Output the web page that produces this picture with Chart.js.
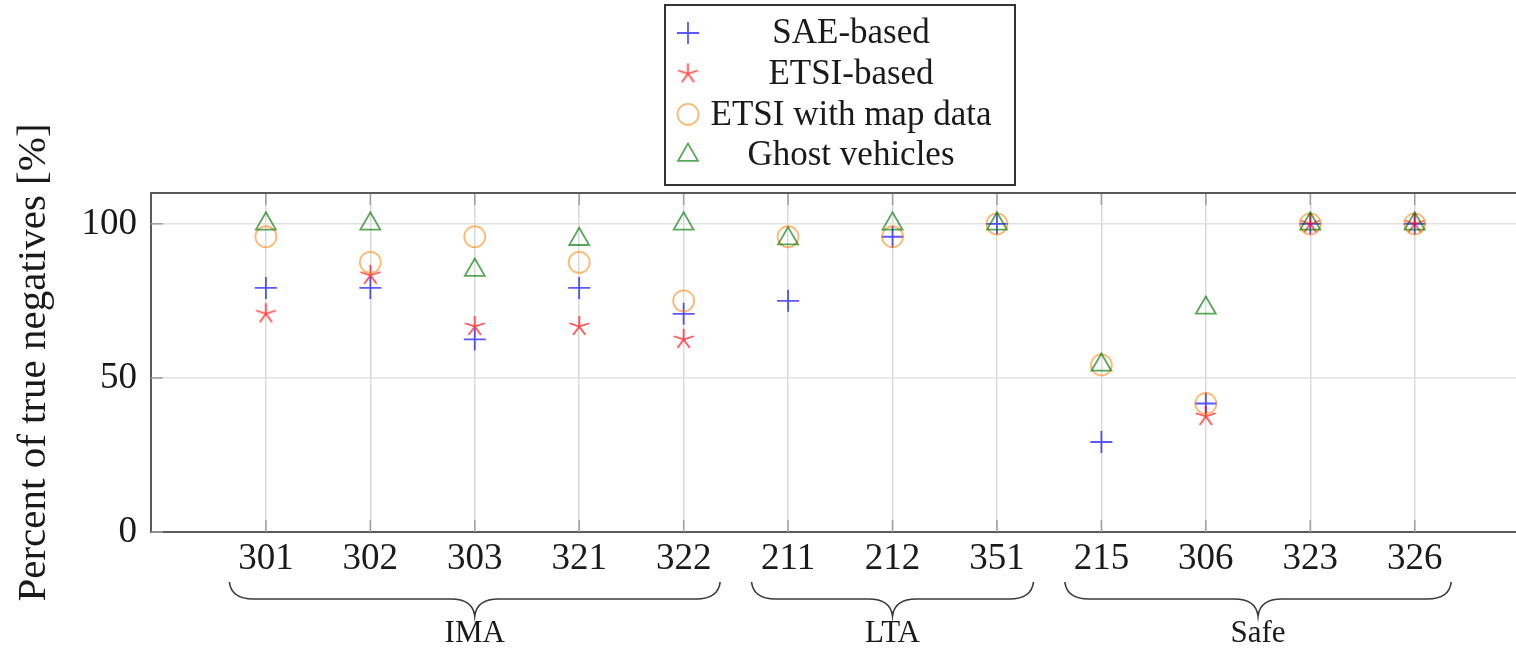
<!DOCTYPE html>
<html>
<head>
<meta charset="utf-8">
<script src="https://cdn.jsdelivr.net/npm/chart.js@4/dist/chart.umd.min.js"></script>
<style>
    html, body { margin: 0; padding: 0; background: #fff; overflow: hidden; }
    #wrap { width: 1516px; height: 652px; }
</style>
</head>
<body>
<div id="wrap"><canvas id="chart" width="1516" height="652"></canvas></div>
<script>
    // scenario ids on the x axis
    const scenarios = ['301', '302', '303', '321', '322', '211', '212', '351', '215', '306', '323', '326'];
    const yTicks = [0, 50, 100];

    // groups shown with braces under the axis
    const groupNames = ['IMA', 'LTA', 'Safe'];
    const groupFirst = [0, 5, 8];
    const groupLast = [4, 7, 11];

    // percent of true negatives per scenario
    const saeBased = [79.2, 79.2, 62.5, 79.2, 70.8, 75.0, 95.8, 100, 29.2, 41.7, 100, 100];
    const etsiBased = [70.8, 83.3, 66.7, 66.7, 62.5, null, null, null, null, 37.5, 100, 100];
    const etsiMapData = [95.8, 87.5, 95.8, 87.5, 75.0, 95.8, 95.8, 100, 54.2, 41.7, 100, 100];
    const ghostVehicles = [100, 100, 85.0, 95.0, 100, 95.2, 100, 100, 54.2, 72.7, 100, 100];

    const seriesLabels = ['SAE-based', 'ETSI-based', 'ETSI with map data', 'Ghost vehicles'];

    const BLUE = 'rgba(0, 0, 255, 0.65)';
    const RED = 'rgba(255, 0, 0, 0.7)';
    const ORANGE = 'rgba(255, 128, 0, 0.55)';
    const GREEN = 'rgba(0, 120, 0, 0.65)';
    const SERIF = "'Liberation Serif', 'DejaVu Serif', serif";

    // five-armed star like the pgfplots "star" mark
    function makeStar(r, color, lw) {
        const c = document.createElement('canvas');
        const size = Math.ceil(2 * r + 2 * lw + 2);
        c.width = size;
        c.height = size;
        const g = c.getContext('2d');
        g.strokeStyle = color;
        g.lineWidth = lw;
        const cx = size / 2, cy = size / 2;
        g.beginPath();
        for (let k = 0; k < 5; k++) {
            const a = Math.PI / 2 + k * 2 * Math.PI / 5;
            g.moveTo(cx, cy);
            g.lineTo(cx + r * Math.cos(a), cy - r * Math.sin(a));
        }
        g.stroke();
        return c;
    }

    const starMark = makeStar(10.5, RED, 1.8);

    function toPoints(values) {
        return values
            .map((v, i) => (v === null ? null : { x: i, y: v }))
            .filter(p => p !== null);
    }

    const datasets = [
        { label: seriesLabels[0], data: toPoints(saeBased), pointStyle: 'cross', pointRadius: 11,
          borderColor: BLUE, backgroundColor: 'transparent', pointBorderWidth: 1.8, order: 4 },
        { label: seriesLabels[1], data: toPoints(etsiBased), pointStyle: starMark, pointRadius: 11,
          borderColor: RED, backgroundColor: 'transparent', pointBorderWidth: 1.8, order: 3 },
        { label: seriesLabels[2], data: toPoints(etsiMapData), pointStyle: 'circle', pointRadius: 10.5,
          borderColor: ORANGE, backgroundColor: 'transparent', pointBorderWidth: 1.8, order: 2 },
        { label: seriesLabels[3], data: toPoints(ghostVehicles), pointStyle: 'triangle', pointRadius: 11.5,
          borderColor: GREEN, backgroundColor: 'transparent', pointBorderWidth: 1.8, order: 1 }
    ];

    function line(ctx, x0, y0, x1, y1) {
        ctx.beginPath();
        ctx.moveTo(x0, y0);
        ctx.lineTo(x1, y1);
        ctx.stroke();
    }

    function drawBrace(ctx, x0, x1, yTop, amp, r) {
        const xm = (x0 + x1) / 2;
        const yMid = yTop + amp / 2;
        const yTip = yTop + amp;
        ctx.beginPath();
        ctx.moveTo(x0, yTop);
        ctx.quadraticCurveTo(x0 + 2, yMid, x0 + r, yMid);
        ctx.lineTo(xm - r, yMid);
        ctx.quadraticCurveTo(xm - 2, yMid, xm, yTip);
        ctx.quadraticCurveTo(xm + 2, yMid, xm + r, yMid);
        ctx.lineTo(x1 - r, yMid);
        ctx.quadraticCurveTo(x1 - 2, yMid, x1, yTop);
        ctx.stroke();
    }

    const decorations = {
        id: 'decorations',
        beforeDatasetsDraw(chart) {
            const { ctx, chartArea: a, scales: { x, y } } = chart;
            ctx.save();
            // inward tick marks like pgfplots
            ctx.strokeStyle = '#a0a0a0';
            ctx.lineWidth = 1.5;
            scenarios.forEach((_, i) => {
                const px = x.getPixelForValue(i);
                line(ctx, px, a.top, px, a.top + 12);
                line(ctx, px, a.bottom, px, a.bottom - 12);
            });
            yTicks.forEach(v => {
                const py = y.getPixelForValue(v);
                line(ctx, a.left, py, a.left + 12, py);
            });
            // top frame line
            ctx.strokeStyle = '#5a5a5a';
            ctx.lineWidth = 2;
            line(ctx, a.left - 1, a.top, a.right, a.top);
            ctx.restore();
        },
        afterDraw(chart) {
            const { ctx, scales: { x } } = chart;
            ctx.save();

            // braces with group names
            ctx.strokeStyle = '#3a3a3a';
            ctx.lineWidth = 1.6;
            ctx.fillStyle = '#1a1a1a';
            ctx.font = '31px ' + SERIF;
            ctx.textAlign = 'center';
            ctx.textBaseline = 'middle';
            groupNames.forEach((name, g) => {
                const x0 = x.getPixelForValue(groupFirst[g] - 0.35);
                const x1 = x.getPixelForValue(groupLast[g] + 0.35);
                drawBrace(ctx, x0, x1, 582, 34, 24);
                ctx.fillText(name, (x0 + x1) / 2, 634);
            });

            // legend box
            ctx.fillStyle = '#fff';
            ctx.fillRect(665, 5, 350, 180);
            ctx.strokeStyle = '#333';
            ctx.lineWidth = 2;
            ctx.strokeRect(665, 5, 350, 180);
            ctx.font = '35px ' + SERIF;
            chart.data.datasets.forEach((ds, i) => {
                const rowY = 33 + i * 40.7;
                ctx.strokeStyle = ds.borderColor;
                ctx.fillStyle = 'transparent';
                ctx.lineWidth = ds.pointBorderWidth;
                Chart.helpers.drawPoint(ctx, {
                    pointStyle: ds.pointStyle, radius: ds.pointRadius, rotation: 0,
                    borderWidth: ds.pointBorderWidth
                }, 688, rowY);
                ctx.fillStyle = '#1a1a1a';
                ctx.fillText(ds.label, 851, rowY + 1);
            });
            ctx.restore();
        }
    };

    new Chart(document.getElementById('chart'), {
        type: 'scatter',
        data: { datasets: datasets },
        options: {
            responsive: false,
            animation: false,
            layout: { autoPadding: false, padding: { top: 193, left: 0, right: 0, bottom: 0 } },
            plugins: { legend: { display: false }, tooltip: { enabled: false } },
            scales: {
                x: {
                    type: 'linear',
                    min: -1.1,
                    max: 11.97,
                    afterBuildTicks: s => { s.ticks = scenarios.map((_, i) => ({ value: i })); },
                    afterFit: s => { s.height = 120; },
                    ticks: {
                        callback: v => scenarios[v],
                        font: { family: SERIF, size: 37 },
                        color: '#1a1a1a',
                        padding: 5,
                        maxRotation: 0,
                        autoSkip: false
                    },
                    grid: { color: '#dadada', lineWidth: 1.5, drawTicks: false },
                    border: { color: '#5a5a5a', width: 2 }
                },
                y: {
                    min: 0,
                    max: 110,
                    afterBuildTicks: s => { s.ticks = yTicks.map(v => ({ value: v })); },
                    afterFit: s => { s.width = 151; },
                    ticks: {
                        font: { family: SERIF, size: 37 },
                        color: '#1a1a1a',
                        padding: 14
                    },
                    grid: { color: '#e2e2e2', lineWidth: 1.5, drawTicks: false },
                    border: { color: '#5a5a5a', width: 2 },
                    title: {
                        display: true,
                        text: 'Percent of true negatives [%]',
                        font: { family: SERIF, size: 41 },
                        color: '#1a1a1a',
                        padding: { top: 10, bottom: 0 }
                    }
                }
            }
        },
        plugins: [decorations]
    });
</script>
</body>
</html>
